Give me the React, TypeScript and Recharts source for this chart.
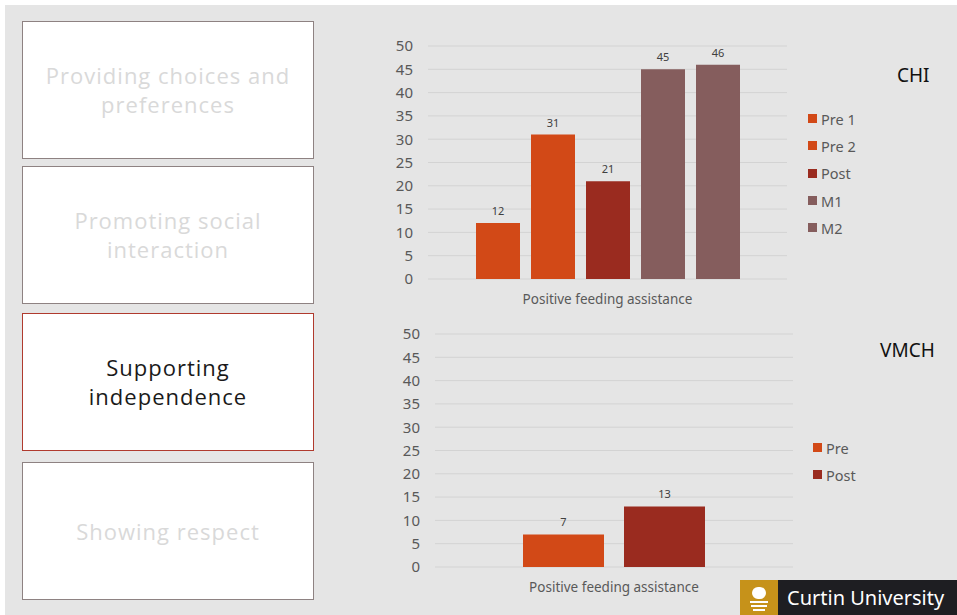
import React from "react";
import { BarChart, Bar, XAxis, YAxis, CartesianGrid, Legend, LabelList } from "recharts";

const category = "Positive feeding assistance";
const yTicks = [0, 5, 10, 15, 20, 25, 30, 35, 40, 45, 50];

const chiSeries = ["Pre 1", "Pre 2", "Post", "M1", "M2"];
const chiValues = [12, 31, 21, 45, 46];
const chiColors = ["#d24917", "#d24917", "#9a2b1f", "#855d5d", "#855d5d"];

const vmchSeries = ["Pre", "Post"];
const vmchValues = [7, 13];
const vmchColors = ["#d24917", "#9a2b1f"];

const boxes = [
  { lines: ["Providing choices and", "preferences"], active: false },
  { lines: ["Promoting social", "interaction"], active: false },
  { lines: ["Supporting", "independence"], active: true },
  { lines: ["Showing respect"], active: false },
];
const boxTops = [21, 166, 313, 462];

const FONT = "'Noto Sans', 'Open Sans', sans-serif";

function toRow(series: string[], values: number[]) {
  const row: Record<string, string | number> = { name: category };
  series.forEach((s, i) => (row[s] = values[i]));
  return [row];
}

function LegendList({ payload, order }: { payload?: { value: string; color: string }[]; order: string[] }) {
  const items = [...(payload || [])].sort((a, b) => order.indexOf(a.value) - order.indexOf(b.value));
  return (
    <div style={{ fontFamily: FONT, fontSize: 14.5, color: "#595959" }}>
      {items.map((p) => (
        <div key={p.value} style={{ display: "flex", alignItems: "center", height: 27.3 }}>
          <span style={{ width: 9, height: 9, background: p.color, marginRight: 4 }} />
          {p.value}
        </div>
      ))}
    </div>
  );
}

interface ChartProps {
  series: string[];
  values: number[];
  colors: string[];
  top: number;
  height: number;
  yWidth: number;
  marginTop: number;
  marginRight: number;
  barSize: number;
  barGap: number;
  legendLeft: number;
  legendTop: number;
}

function Chart(p: ChartProps) {
  return (
    <div style={{ position: "absolute", left: 380, top: p.top }}>
      <BarChart
        width={577}
        height={p.height}
        data={toRow(p.series, p.values)}
        margin={{ top: p.marginTop, right: p.marginRight, left: 0, bottom: 0 }}
        barSize={p.barSize}
        barGap={p.barGap}
      >
        <CartesianGrid vertical={false} stroke="#d3d3d3" />
        <XAxis
          dataKey="name"
          axisLine={false}
          tickLine={false}
          tickSize={0}
          tickMargin={15}
          height={35}
          tick={{ fontSize: 13.5, fill: "#595959", fontFamily: FONT }}
        />
        <YAxis
          domain={[0, 50]}
          ticks={yTicks}
          interval={0}
          width={p.yWidth}
          axisLine={false}
          tickLine={false}
          tickSize={0}
          tickMargin={15}
          tick={{ fontSize: 15, fill: "#595959", fontFamily: FONT }}
        />
        <Legend
          layout="vertical"
          align="right"
          verticalAlign="top"
          content={<LegendList order={p.series} />}
          wrapperStyle={{ width: 150, left: p.legendLeft, top: p.legendTop }}
        />
        {p.series.map((s, i) => (
          <Bar key={s} dataKey={s} name={s} fill={p.colors[i]} isAnimationActive={false}>
            <LabelList
              dataKey={s}
              position="top"
              offset={8}
              style={{ fontSize: 11, fill: "#404040", fontFamily: FONT }}
            />
          </Bar>
        ))}
      </BarChart>
    </div>
  );
}

export default function App() {
  return (
    <div style={{ position: "fixed", left: 0, top: 0, width: 957, height: 615, background: "#ffffff", overflow: "hidden" }}>
      <div style={{ position: "absolute", left: 5, top: 5, right: 0, bottom: 0, background: "#e5e5e5" }} />

      {boxes.map((b, i) => (
        <div
          key={i}
          style={{
            position: "absolute",
            left: 22,
            top: boxTops[i],
            width: 290,
            height: 136,
            background: "#ffffff",
            border: `1px solid ${b.active ? "#b03a2e" : "#8e8282"}`,
            display: "flex",
            flexDirection: "column",
            justifyContent: "center",
            alignItems: "center",
            fontFamily: "'Open Sans', sans-serif",
            fontSize: 22,
            letterSpacing: 1,
            lineHeight: "29px",
            color: b.active ? "#1a1a1a" : "#d9d9d9",
          }}
        >
          {b.lines.map((l) => (
            <div key={l}>{l}</div>
          ))}
        </div>
      ))}

      <Chart
        series={chiSeries}
        values={chiValues}
        colors={chiColors}
        top={30}
        height={284}
        yWidth={48}
        marginTop={16}
        marginRight={20}
        barSize={44}
        barGap={11}
        legendLeft={428}
        legendTop={75}
      />
      <Chart
        series={vmchSeries}
        values={vmchValues}
        colors={vmchColors}
        top={320}
        height={282}
        yWidth={55}
        marginTop={14}
        marginRight={14}
        barSize={81}
        barGap={20}
        legendLeft={433}
        legendTop={114}
      />

      <div style={{ position: "absolute", left: 897, top: 62, fontFamily: FONT, fontSize: 19, color: "#111" }}>CHI</div>
      <div style={{ position: "absolute", left: 880, top: 337, fontFamily: FONT, fontSize: 19, color: "#111" }}>VMCH</div>

      <div style={{ position: "absolute", left: 740, top: 580, width: 38, height: 35, background: "#c6921a" }}>
        <div style={{ position: "absolute", left: 12, top: 7, width: 14, height: 12, borderRadius: 7, background: "#ffffff" }} />
        <div style={{ position: "absolute", left: 10, top: 21, width: 18, height: 2, background: "#ffffff" }} />
        <div style={{ position: "absolute", left: 11, top: 25, width: 16, height: 2, background: "#ffffff" }} />
        <div style={{ position: "absolute", left: 13, top: 29, width: 12, height: 2, background: "#ffffff" }} />
      </div>
      <div
        style={{
          position: "absolute",
          left: 778,
          top: 580,
          width: 179,
          height: 35,
          background: "#1e1e22",
          color: "#ffffff",
          fontFamily: FONT,
          fontSize: 20,
          lineHeight: "35px",
          paddingLeft: 9,
          boxSizing: "border-box",
          whiteSpace: "nowrap",
        }}
      >
        Curtin University
      </div>
    </div>
  );
}
